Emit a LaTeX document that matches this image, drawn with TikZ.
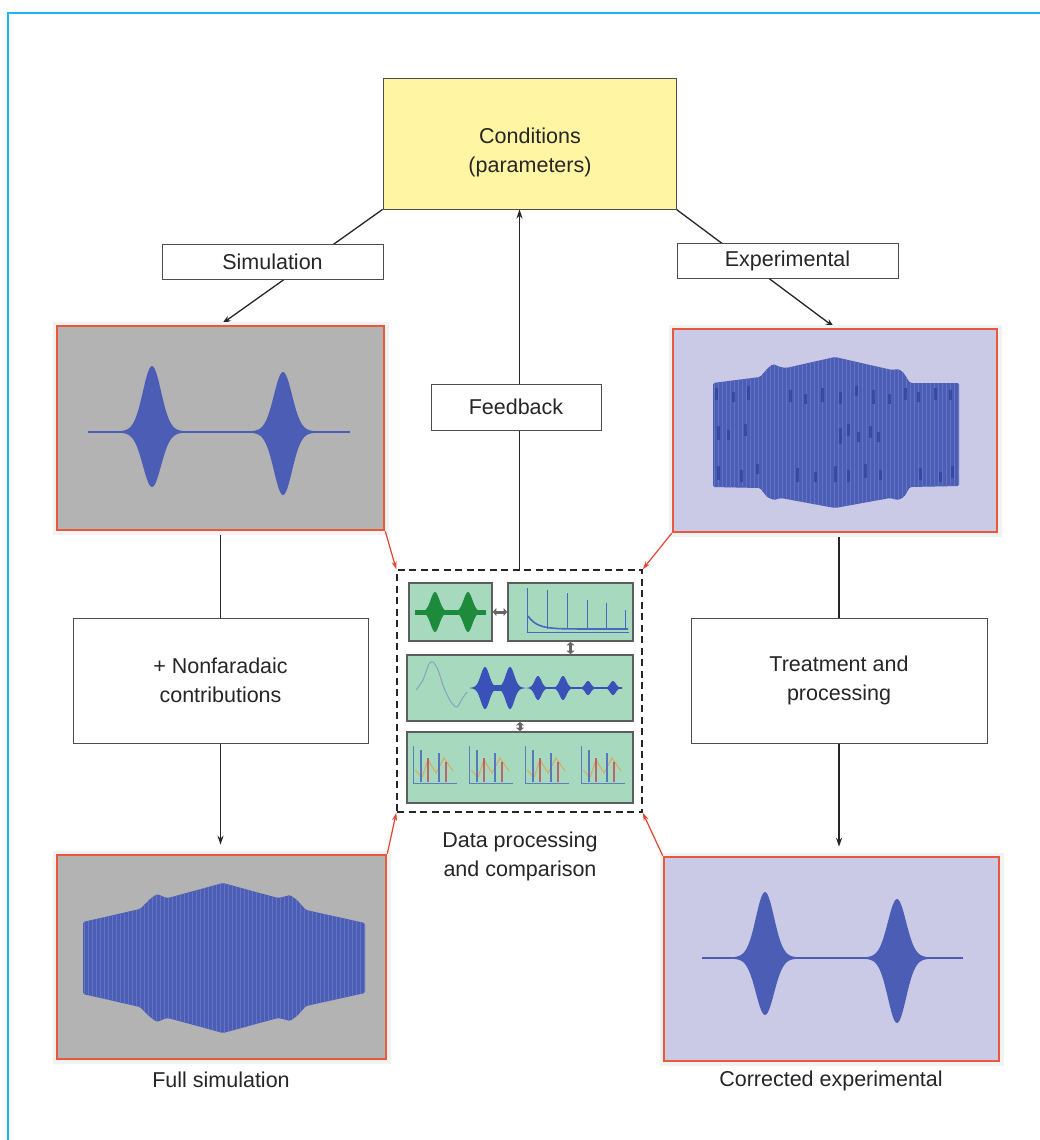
\documentclass[tikz,border=0pt]{standalone}
\usepackage{fontspec}
\setmainfont{Liberation Sans}
\usetikzlibrary{arrows.meta}
\pgfdeclarelayer{bg}
\pgfsetlayers{bg,main}
\definecolor{wave}{HTML}{4B5DB5}
\definecolor{stripecol}{HTML}{6474C2}
\definecolor{darkdash}{HTML}{2F4096}
\definecolor{plotgray}{HTML}{B3B3B3}
\definecolor{plotlav}{HTML}{CACAE6}
\definecolor{plotred}{HTML}{E8583A}
\definecolor{arrred}{HTML}{E04530}
\definecolor{condy}{HTML}{FFF5A3}
\definecolor{cyanline}{HTML}{1AB8EE}
\definecolor{panelgreen}{HTML}{A6D9BE}
\definecolor{panelgray}{HTML}{5E5E5E}
\definecolor{dgreen}{HTML}{1E8A3C}
\definecolor{pblue}{HTML}{4A68C0}
\definecolor{pblue2}{HTML}{3A52B8}
\definecolor{cvcol}{HTML}{86A4BC}
\definecolor{orng}{HTML}{E0A050}
\definecolor{redl}{HTML}{C04858}
\newcommand\burst[6]{%
  \fill[#6] plot[domain=-3.6:3.6, samples=49, smooth] ({#1+#5*\x},{#2-#3*g(\x)})
   -- plot[domain=3.6:-3.6, samples=49, smooth] ({#1+#5*\x},{#2+#4*g(\x)}) -- cycle;}
\newcommand\shapeBL[1]{\path[#1,rounded corners=1.5pt] (83,922) -- (140,909) -- (150,899) -- (157,894) -- (164,897) -- (168,898) -- (223,883) -- (278,898) -- (283,897) -- (290,895) -- (297,900) -- (306,910) -- (365,923) -- (365,993) -- (306,1006) -- (297,1016) -- (290,1021) -- (283,1019) -- (278,1018) -- (223,1033) -- (168,1018) -- (164,1019) -- (157,1022) -- (150,1017) -- (140,1007) -- (83,994) -- cycle;}
\newcommand\shapeTR[1]{\path[#1,rounded corners=1.5pt] (713,383) -- (760,377) -- (768,368) -- (773,364) -- (780,367) -- (786,368) -- (835,357) -- (892,370) -- (898,369) -- (903,372) -- (910,383) -- (959,383) -- (959,486) -- (910,487) -- (904,497) -- (898,500) -- (890,498) -- (835,508) -- (781,498) -- (774,500) -- (767,497) -- (760,488) -- (713,487) -- cycle;}
\begin{document}
\begin{tikzpicture}[x=1pt,y=-1pt,
  declare function={g(\u)=0.96*exp(-(\u)*(\u)/2)+0.04*exp(-(\u)*(\u)/10);},
  txt/.style={font=\fontsize{21.5}{29}\selectfont, align=center, text=black!85},
  lbl/.style={txt, draw=black!70, line width=0.9pt, fill=white, inner sep=0pt},
  plotg/.style={draw=plotred, line width=2.6pt, fill=plotgray, inner sep=0pt, preaction={draw=black!5, line width=9pt}},
  plotl/.style={plotg, fill=plotlav},
  panel/.style={draw=panelgray, line width=1.8pt, fill=panelgreen, inner sep=0pt},
  conn/.style={line width=1.3pt, draw=black!85},
  arr/.style={conn, -{Stealth[length=9pt,width=6pt]}},
  redarr/.style={draw=arrred, line width=1.2pt, -{Stealth[length=8pt,width=5pt]}},
  parr/.style={draw=black!60, line width=3pt, {Triangle[length=3.5pt,width=8pt]}-{Triangle[length=3.5pt,width=8pt]}},
  stripe/.style={draw=stripecol, line width=0.6pt},
]
\useasboundingbox (0,0) rectangle (1040,1140);
\begin{pgfonlayer}{bg}
\fill[white] (0,0) rectangle (1040,1140);
\end{pgfonlayer}
\draw[cyanline, line width=2pt] (1040,13) -- (8,13) -- (8,1140);

% boxes
\node[lbl, fill=condy, minimum width=293pt, minimum height=131pt] (cond) at (529.5,143.5) {};
\node[txt, inner sep=0pt] (condt) at (530,152) {Conditions\\(parameters)};
\node[lbl, minimum width=221pt, minimum height=35pt] (sim) at (272.5,261.5) {Simulation};
\node[lbl, minimum width=221pt, minimum height=35pt] (expl) at (787.5,260.5) {Experimental};
\node[lbl, minimum width=170pt, minimum height=46pt] (fb) at (516,407) {Feedback};
\node[lbl, minimum width=295pt, minimum height=125pt] (nonf) at (220.5,680.5) {+ Nonfaradaic\\contributions};
\node[lbl, minimum width=296pt, minimum height=125pt] (treat) at (839,680.5) {Treatment and\\processing};

% plots
\node[plotg, minimum width=327pt, minimum height=204pt] (p1) at (220.5,428) {};
\node[plotl, minimum width=324pt, minimum height=203pt] (p2) at (835,430.5) {};
\node[plotg, minimum width=329pt, minimum height=204pt] (p3) at (221.5,957) {};
\node[plotl, minimum width=335pt, minimum height=204pt] (p4) at (831.5,959) {};

% dashed box and panels
\node[draw=black!85, line width=1.5pt, dash pattern=on 7pt off 4.5pt, minimum width=245pt, minimum height=242pt, inner sep=0pt] (dp) at (519.5,691) {};
\node[panel, minimum width=83pt, minimum height=58pt] (pa) at (450.5,612) {};
\node[panel, minimum width=125pt, minimum height=58pt] (pb) at (570.5,612) {};
\node[panel, minimum width=226pt, minimum height=66pt] (pc) at (520,688) {};
\node[panel, minimum width=226pt, minimum height=71pt] (pd) at (520,767.5) {};

% connectors (behind boxes)
\begin{pgfonlayer}{bg}
\draw[arr, shorten >=2pt] (cond.south west) -- (p1.north);
\draw[arr, shorten >=1pt] (cond.south east) -- (p2.north);
\draw[arr] (dp.north) -- (dp.north |- cond.south);
\draw[conn] (p1.south) -- (nonf.north);
\draw[arr, shorten >=9pt] (nonf.south) -- (nonf.south |- p3.north);
\draw[conn] (treat.north |- p2.south) -- (treat.north);
\draw[arr, shorten >=9pt] (treat.south) -- (treat.south |- p4.north);
\end{pgfonlayer}

% red arrows
\draw[redarr] (p1.south east) -- (dp.north west);
\draw[redarr] (p2.south west) -- (dp.north east);
\draw[redarr] (p3.north east) -- (dp.south west);
\draw[redarr] (p4.north west) -- (dp.south east);

% panel connectors
\draw[parr] (pa.east) -- (pb.west);
\draw[parr] (pb.south) -- (pb.south |- pc.north);
\draw[parr] (pc.south) -- (pd.north);

% plot 1 : two bursts
\draw[wave, line width=1.5pt] (88,432) -- (350,432);
\burst{152}{432}{66}{55}{9}{wave}
\burst{283}{432}{60}{63}{9}{wave}

% plot 4 : two bursts
\draw[wave, line width=1.5pt] (702,958) -- (963,958);
\burst{765}{958}{66}{57}{9}{wave}
\burst{897}{958}{59}{65}{9}{wave}

% plot 3 : full simulation
\begin{scope}
\shapeBL{clip}
\fill[wave] (80,878) rectangle (370,1040);
\foreach \i in {0,...,71} \draw[stripe] ({84+4*\i},878) -- ({84+4*\i},1040);
\end{scope}

% plot 2 : experimental
\begin{scope}
\shapeTR{clip}
\fill[wave] (710,352) rectangle (962,512);
\foreach \i in {0,...,61} \draw[stripe] ({714+4*\i},352) -- ({714+4*\i},512);
\foreach \dx/\dy/\dl in {716/388/12,733/392/10,748/386/14,790/390/12,805/394/10,822/388/14,840/392/12,856/386/10,873/390/14,889/394/10,905/388/12,918/392/10,935/388/12,950/390/10,
  718/426/14,728/430/10,745/424/12,840/428/16,848/424/12,858/432/10,870/426/12,878/432/10,
  718/466/14,741/470/12,757/464/10,797/468/14,815/472/10,835/466/16,848/470/12,865/464/14,880/470/10,920/468/12,940/472/10,952/466/12}
  \draw[darkdash, line width=3pt, opacity=0.7] (\dx,\dy) -- ++(0,\dl);
\end{scope}

% panel a : green bursts
\fill[dgreen] (415,609.5) rectangle (486,614.5);
\burst{435}{612}{20}{20}{4.3}{dgreen}
\burst{468}{612}{20}{20}{4.3}{dgreen}

% panel b : spectrum
\draw[pblue, line width=0.6pt] (527,588) -- (527,632) -- (629,632);
\draw[pblue, line width=1.6pt] plot[domain=528:628, samples=40, smooth] (\x,{629-13*exp(-(\x-528)/9)});
\foreach \sx/\sy in {547/590,567/593,587/600,606/603,625/610} \draw[pblue, line width=1pt] (\sx,629) -- (\sx,\sy);

% panel c
\draw[cvcol, line width=1pt] plot[smooth] coordinates {(416,690) (423,680) (429,664) (433,662) (438,670) (444,688) (451,702) (457,707) (462,699) (467,692)};
\fill[pblue2] (479,685) rectangle (517,691);
\burst{485}{688}{21}{21}{4.2}{pblue2}
\burst{510}{688}{21}{21}{4.2}{pblue2}
\draw[pblue2, line width=1.2pt] (530,688) -- (622,688);
\burst{538}{688}{12}{12}{3.3}{pblue2}
\burst{563}{688}{12}{12}{3.3}{pblue2}
\burst{588}{688}{7}{7}{2.8}{pblue2}
\burst{613}{688}{7}{7}{2.8}{pblue2}

% panel d : four small plots
\foreach \i in {0,1,2,3} {
  \pgfmathsetmacro\xo{413+56*\i}
  \draw[pblue, line width=0.6pt, opacity=0.8] (\xo,746) -- (\xo,783) -- ({\xo+44},783);
  \draw[orng, line width=1pt, opacity=0.85] ({\xo+2},770) -- ({\xo+9},777) -- ({\xo+15},760) -- ({\xo+23},773) -- ({\xo+31},758) -- ({\xo+40},771);
  \draw[pblue, line width=1.3pt, opacity=0.85] ({\xo+8},782) -- ({\xo+8},750) ({\xo+26},782) -- ({\xo+26},753);
  \draw[redl, line width=1.1pt, opacity=0.8] ({\xo+15},782) -- ({\xo+15},758) ({\xo+33},782) -- ({\xo+33},762);
}

% captions
\node[txt] (lfs) at (221,1080) {Full simulation};
\node[txt] (lce) at (831,1081) {Corrected experimental};
\node[txt] (ldp) at (520,856) {Data processing\\and comparison};
\end{tikzpicture}
\end{document}
